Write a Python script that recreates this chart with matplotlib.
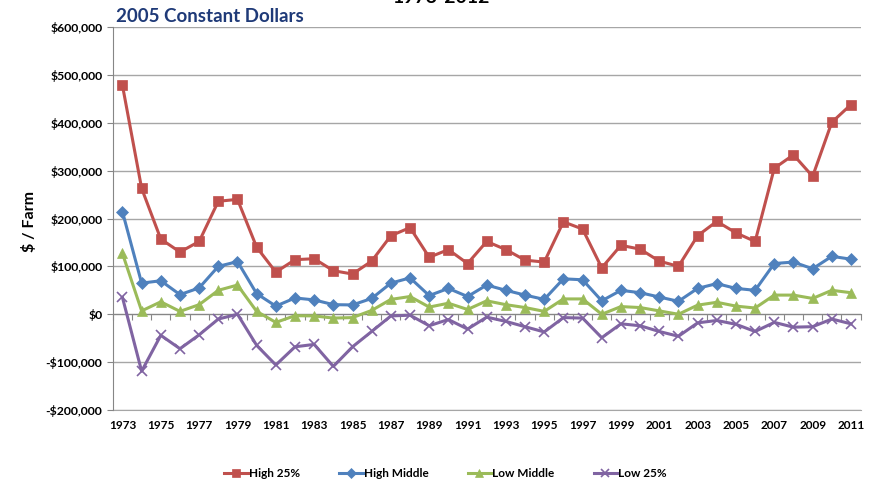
import numpy as np
import matplotlib
matplotlib.use("Agg")
import matplotlib.pyplot as plt
from matplotlib.ticker import FuncFormatter, FixedLocator

plt.rcParams['font.family'] = ['Lato', 'DejaVu Sans']

# Data (2005 constant dollars, $ per farm)
years = list(range(1973, 2012))
high_25 = [478000, 263000, 157000, 130000, 152000, 236000, 240000, 140000, 88000, 114000,
           116000, 91000, 84000, 111000, 164000, 181000, 119000, 135000, 106000, 152000,
           135000, 113000, 109000, 193000, 178000, 97000, 144000, 136000, 111000, 100000,
           164000, 194000, 170000, 152000, 305000, 333000, 288000, 401000, 438000]
high_middle = [214000, 65000, 70000, 41000, 55000, 100000, 110000, 43000, 17000, 34000,
               30000, 20000, 19500, 33000, 65000, 76000, 39000, 54000, 37000, 61000,
               50000, 40000, 31000, 74000, 72000, 28000, 50000, 45000, 36000, 27000,
               54000, 64000, 54000, 50000, 106000, 109000, 95000, 121000, 115000]
low_middle = [127000, 7000, 26000, 6000, 20000, 50000, 61000, 6000, -17000, -3000,
              -3500, -8000, -7000, 8000, 31000, 37000, 15000, 23000, 10000, 28000,
              20000, 14000, 6000, 32000, 32000, 0, 16000, 14000, 7000, 0,
              19000, 25000, 17000, 13000, 40000, 40000, 33000, 50000, 45000]
low_25 = [35000, -119000, -44000, -72000, -43000, -10000, 0, -65000, -106000, -68000,
          -63000, -109000, -68000, -36000, -3500, -2000, -24000, -11000, -31000, -6000,
          -15000, -26000, -37000, -7000, -8000, -49000, -20000, -24000, -36000, -46000,
          -18000, -13000, -21000, -36000, -17000, -27000, -26000, -10000, -20000]

series = [
    ("High 25%", high_25, "#C0504D", "s", 7.5),
    ("High Middle", high_middle, "#4F81BD", "D", 6),
    ("Low Middle", low_middle, "#9BBB59", "^", 7.5),
    ("Low 25%", low_25, "#8064A2", "x", 7),
]

fig = plt.figure(figsize=(8.75, 4.86), dpi=100)
ax = fig.add_axes([0.129, 0.1564, 0.8545, 0.788])

for label, vals, color, marker, ms in series:
    ax.plot(years, vals, color=color, lw=2.2, marker=marker, ms=ms,
            markeredgewidth=1.2 if marker == "x" else 0.5,
            markeredgecolor=color, label=label, zorder=3)

ax.set_xlim(1972.5, 2011.5)
ax.set_ylim(-200000, 600000)
ax.set_yticks(np.arange(-200000, 600001, 100000))
ax.yaxis.set_major_formatter(FuncFormatter(
    lambda v, p: "$0" if v == 0 else ("-$" if v < 0 else "$") + f"{abs(v):,.0f}"))
ax.grid(axis='y', color='#A6A6A6', lw=1.0, zorder=0)
ax.set_axisbelow(True)

for s in ['top', 'right']:
    ax.spines[s].set_visible(False)
ax.spines['left'].set_color('#868686')
ax.spines['bottom'].set_position(('data', 0))
ax.spines['bottom'].set_color('#868686')
ax.spines['bottom'].set_zorder(2)

# tick marks on the zero line between categories, no labels there
ax.xaxis.set_major_locator(FixedLocator(np.arange(1972.5, 2012, 1.0)))
ax.tick_params(axis='x', which='major', direction='out', length=4, color='#868686',
               labelbottom=False)
ax.tick_params(axis='y', direction='out', length=4, color='#868686',
               labelsize=8.8)
for t in ax.get_yticklabels():
    t.set_fontweight('bold')

# year labels along the bottom
sec = ax.secondary_xaxis(0)
sec.set_xticks(years[::2])
sec.set_xticklabels([str(y) for y in years[::2]], fontweight='bold', fontsize=8.5)
sec.tick_params(length=0, pad=7)
sec.spines['bottom'].set_color('#A6A6A6')

ax.set_ylabel("$ / Farm", fontsize=11.5, fontweight='bold')
ax.yaxis.set_label_coords(-0.102, 0.493)

fig.text(0.132, 0.966, "2005 Constant Dollars", fontsize=13.5, fontweight='bold',
         color='#1F3A78', ha='left', va='center')
# main title sits mostly above the visible area in the original
fig.text(0.505, 0.993, "1973-2012", fontsize=14, fontweight='bold',
         color='black', ha='center', va='baseline')

ax.legend(loc='center', bbox_to_anchor=(0.445, -0.167), ncol=4, frameon=False,
          handlelength=2.0, handletextpad=0.1, columnspacing=3.3, markerscale=0.8,
          prop={'weight': 'bold', 'size': 8.5})

fig.savefig("out.png", dpi=100, facecolor='white')
